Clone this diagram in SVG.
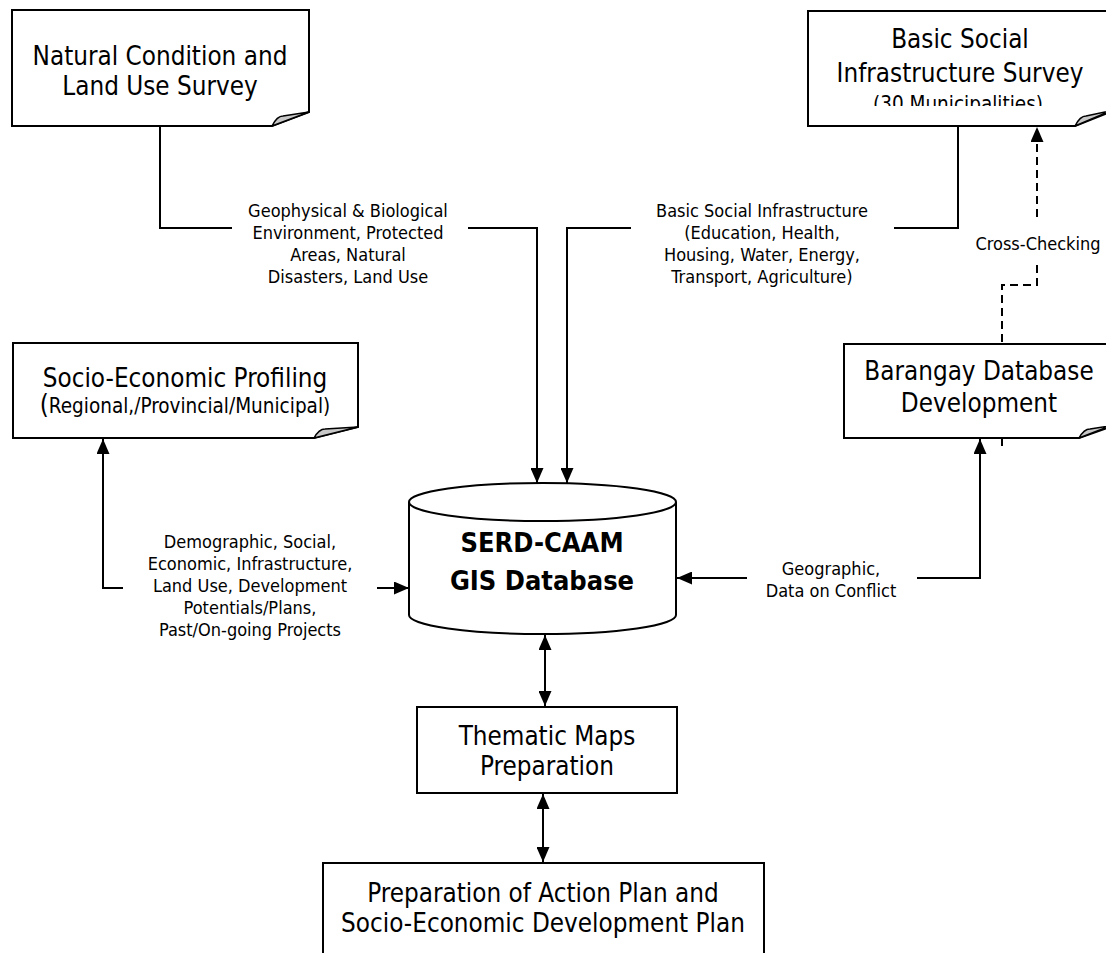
<svg xmlns="http://www.w3.org/2000/svg" width="1106" height="953" viewBox="0 0 1106 953">
<style>
.box{fill:#fff;stroke:#000;stroke-width:2}
.fold{fill:#c8c8c8;stroke:#000;stroke-width:1.5;stroke-linejoin:round}
.ln{fill:none;stroke:#000;stroke-width:2}
.dash{fill:none;stroke:#000;stroke-width:2;stroke-dasharray:8 5}
.t{font-family:"DejaVu Sans Condensed","DejaVu Sans",sans-serif;font-stretch:condensed;fill:#000;text-anchor:middle}
.big{font-size:25.8px}
.mid{font-size:20.5px}
.lab{font-size:18px}
.bold{font-size:27px;font-weight:bold}
</style>
<defs>
<marker id="ah" viewBox="0 0 15 13" refX="15" refY="6.5" markerWidth="15" markerHeight="13" markerUnits="userSpaceOnUse" orient="auto-start-reverse">
<path d="M0,0 L15,6.5 L0,13 Z" fill="#000"/>
</marker>
<clipPath id="clipTR"><rect x="800" y="0" width="306" height="106"/></clipPath>
</defs>

<g id="connectors">
<polyline class="ln" points="160,126 160,228 232,228"/>
<polyline class="ln" points="468,228 537,228 537,483" marker-end="url(#ah)"/>
<polyline class="ln" points="958,126 958,228 894,228"/>
<polyline class="ln" points="631,228 567,228 567,483" marker-end="url(#ah)"/>
<polyline class="dash" points="1002,446 1002,285 1037,285 1037,265"/>
<polyline class="dash" points="1037,217 1037,127" marker-end="url(#ah)"/>
<polyline class="ln" points="123,588 103,588 103,439" marker-end="url(#ah)"/>
<line class="ln" x1="377" y1="588" x2="409" y2="588" marker-end="url(#ah)"/>
<polyline class="ln" points="917,578 980,578 980,439" marker-end="url(#ah)"/>
<line class="ln" x1="747" y1="578" x2="677" y2="578" marker-end="url(#ah)"/>
<line class="ln" x1="545" y1="635" x2="545" y2="706" marker-start="url(#ah)" marker-end="url(#ah)"/>
<line class="ln" x1="543" y1="794" x2="543" y2="862" marker-start="url(#ah)" marker-end="url(#ah)"/>
<text class="t lab"><tspan x="348" y="217">Geophysical &amp; Biological</tspan><tspan x="348" y="239">Environment, Protected</tspan><tspan x="348" y="261">Areas, Natural</tspan><tspan x="348" y="283">Disasters, Land Use</tspan></text>
<text class="t lab"><tspan x="762" y="217">Basic Social Infrastructure</tspan><tspan x="762" y="239">(Education, Health,</tspan><tspan x="762" y="261">Housing, Water, Energy,</tspan><tspan x="762" y="283">Transport, Agriculture)</tspan></text>
<text class="t lab" x="1038" y="250">Cross-Checking</text>
<text class="t lab"><tspan x="250" y="548">Demographic, Social,</tspan><tspan x="250" y="570">Economic, Infrastructure,</tspan><tspan x="250" y="592">Land Use, Development</tspan><tspan x="250" y="614">Potentials/Plans,</tspan><tspan x="250" y="636">Past/On-going Projects</tspan></text>
<text class="t lab"><tspan x="831" y="575">Geographic,</tspan><tspan x="831" y="597">Data on Conflict</tspan></text>
</g>

<g id="natural">
<path class="box" d="M12,10 H309 V112 L272,126 H12 Z"/>
<path class="fold" d="M272,126 Q277,116 283,116 L309,112 Z"/>
<text class="t big"><tspan x="160" y="65">Natural Condition and</tspan><tspan x="160" y="95">Land Use Survey</tspan></text>
</g>

<g id="basic-social">
<path class="box" d="M808,11 H1110 V112 L1075,126 H808 Z"/>
<path class="fold" d="M1075,126 Q1080,116 1086,116 L1110,111 Z"/>
<text class="t big"><tspan x="960" y="48">Basic Social</tspan><tspan x="960" y="82">Infrastructure Survey</tspan></text>
<text class="t mid" x="958" y="111" clip-path="url(#clipTR)">(30 Municipalities)</text>
</g>

<g id="socio">
<path class="box" d="M13,343 H358 V427 L314,438 H13 Z"/>
<path class="fold" d="M314,438 Q319,429 325,429 L358,427 Z"/>
<text class="t big" x="185" y="387">Socio-Economic Profiling</text>
<text class="t mid" x="185" y="413"><tspan font-size="25.8px">(</tspan>Regional,/Provincial/Municipal)</text>
</g>

<g id="barangay">
<path class="box" d="M844,344 H1110 V427 L1079,438 H844 Z"/>
<path class="fold" d="M1079,438 Q1084,429 1090,429 L1110,426 Z"/>
<text class="t big"><tspan x="979" y="380">Barangay Database</tspan><tspan x="979" y="412">Development</tspan></text>
</g>

<g id="gis">
<path class="box" d="M409,502 V615 A133.5,19 0 0 0 676,615 V502"/>
<ellipse class="box" cx="542.5" cy="502" rx="133.5" ry="19"/>
<text class="t bold"><tspan x="542" y="552">SERD-CAAM</tspan><tspan x="542" y="590">GIS Database</tspan></text>
</g>

<g id="thematic">
<rect class="box" x="417" y="707" width="260" height="86"/>
<text class="t big"><tspan x="547" y="745">Thematic Maps</tspan><tspan x="547" y="775">Preparation</tspan></text>
</g>

<g id="action">
<rect class="box" x="323" y="863" width="441" height="100"/>
<text class="t big"><tspan x="543" y="902">Preparation of Action Plan and</tspan><tspan x="543" y="932">Socio-Economic Development Plan</tspan></text>
</g>
</svg>
